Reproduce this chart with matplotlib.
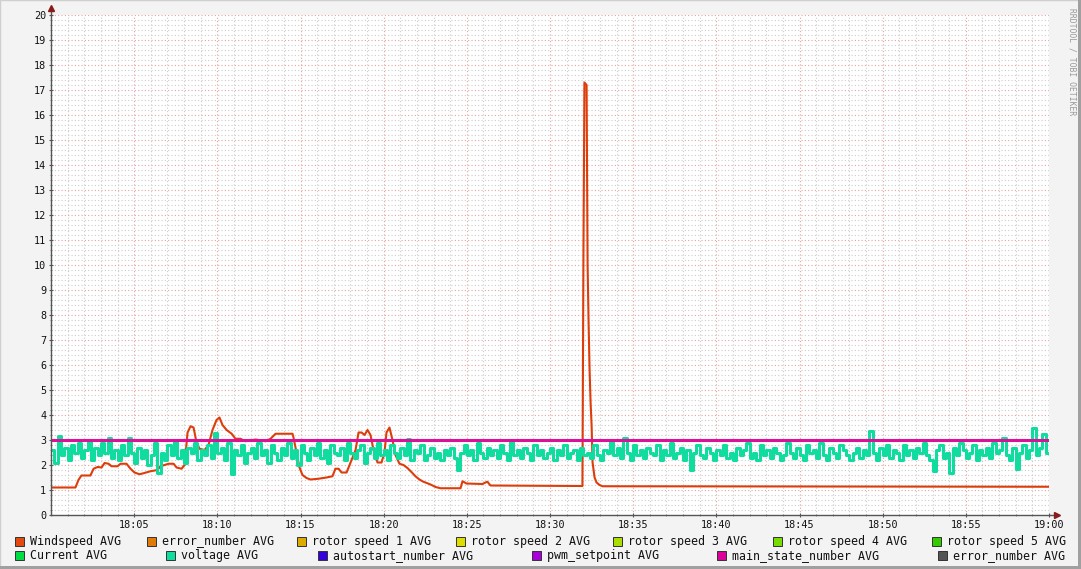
import numpy as np
import matplotlib
matplotlib.use("Agg")
import matplotlib.pyplot as plt
from matplotlib.patches import Rectangle
from matplotlib.lines import Line2D

# windspeed: minutes after 18:00 and value
wind_min = [0, 1.47, 1.65, 1.83, 2.37, 2.56, 2.80, 3.04, 3.22, 3.46, 3.64, 4.00, 4.18, 4.54,
            4.78, 5.02, 5.32, 5.56, 5.98, 6.40, 6.58, 7.07, 7.37, 7.55, 7.85, 8.03, 8.21, 8.39,
            8.57, 8.75, 8.93, 9.23, 9.47, 9.71, 9.95, 10.13, 10.31, 10.56, 10.86, 11.09, 11.39,
            11.69, 12.30, 12.90, 13.20, 13.50, 13.68, 14.52, 14.58, 14.76, 14.94, 15.12, 15.36,
            15.60, 16.08, 16.56, 16.92, 17.10, 17.29, 17.47, 17.77, 17.95, 18.13, 18.31, 18.49,
            18.67, 18.85, 19.03, 19.21, 19.39, 19.63, 19.87, 20.05, 20.17, 20.35, 20.53, 20.71,
            20.95, 21.19, 21.43, 21.67, 21.91, 22.15, 22.39, 22.63, 22.88, 23.12, 23.42, 24.62,
            24.74, 24.98, 25.94, 26.12, 26.24, 26.42, 31.95, 32.01, 32.07, 32.20, 32.26, 32.32,
            32.38, 32.44, 32.50, 32.56, 32.68, 32.80, 32.98, 33.16, 60]
wind_val = [1.1, 1.1, 1.4, 1.58, 1.58, 1.85, 1.92, 1.9, 2.08, 2.05, 1.95, 1.95, 2.05, 2.05,
            1.85, 1.7, 1.63, 1.67, 1.75, 1.8, 1.95, 2.05, 2.05, 1.9, 1.85, 2.0, 3.3, 3.55,
            3.5, 2.9, 2.65, 2.6, 2.8, 3.4, 3.8, 3.9, 3.6, 3.4, 3.25, 3.05, 3.05,
            2.95, 3.02, 2.95, 3.05, 3.25, 3.25, 3.25, 3.1, 2.5, 1.9, 1.6, 1.48,
            1.42, 1.45, 1.5, 1.55, 1.85, 1.85, 1.7, 1.7, 2.0, 2.3, 2.6, 3.3,
            3.3, 3.2, 3.4, 3.2, 2.6, 2.1, 2.1, 2.5, 3.3, 3.5, 3.0, 2.4,
            2.05, 2.0, 1.88, 1.72, 1.55, 1.42, 1.33, 1.27, 1.2, 1.12, 1.07, 1.07,
            1.35, 1.26, 1.24, 1.3, 1.33, 1.18, 1.16, 10.4, 17.3, 17.2, 10.0, 7.7,
            5.8, 4.5, 3.6, 2.1, 1.5, 1.3, 1.2, 1.15, 1.13]

# voltage, one sample every 12 s
voltage = [
    2.6, 2.1, 3.15, 2.4, 2.7, 2.2, 2.8, 2.5, 2.9, 2.3, 2.6, 3.0, 2.2, 2.7, 2.4, 2.9, 2.5, 3.1, 2.3, 2.6,
    2.2, 2.8, 2.4, 3.1, 2.5, 2.1, 2.7, 2.3, 2.6, 2.0, 2.4, 2.9, 1.7, 2.5, 2.2, 2.8, 2.4, 3.0, 2.3, 2.6,
    2.1, 2.7, 2.5, 2.9, 2.2, 2.6, 2.4, 2.8, 2.3, 3.3, 2.5, 2.7, 2.2, 2.9, 1.65, 2.6, 2.4, 2.8, 2.1, 2.5,
    2.7, 2.3, 2.9, 2.4, 2.6, 2.1, 2.8, 2.5, 2.2, 2.7, 2.4, 2.9, 2.3, 2.6, 2.0, 2.8, 2.5, 2.2, 2.7, 2.4,
    2.9, 2.3, 2.6, 2.1, 2.8, 2.5, 2.4, 2.7, 2.2, 2.9, 2.5, 2.3, 2.6, 2.8, 2.1, 2.5, 2.7, 2.3, 2.9, 2.4,
    2.6, 2.2, 2.8, 2.5, 2.3, 2.7, 2.4, 3.05, 2.2, 2.6, 2.5, 2.8, 2.2, 2.4, 2.7, 2.3, 2.5, 2.2, 2.6, 2.4,
    2.7, 2.3, 1.8, 2.5, 2.8, 2.4, 2.6, 2.2, 2.9, 2.5, 2.3, 2.7, 2.4, 2.6, 2.3, 2.8, 2.5, 2.2, 3.0, 2.4,
    2.6, 2.3, 2.7, 2.5, 2.2, 2.8, 2.4, 2.6, 2.3, 2.5, 2.7, 2.2, 2.6, 2.4, 2.8, 2.3, 2.5, 2.6, 2.2, 2.7,
    2.4, 2.5, 2.3, 2.8, 2.4, 2.2, 2.6, 2.5, 3.0, 2.4, 2.7, 2.3, 3.1, 2.5, 2.2, 2.8, 2.4, 2.6, 2.3, 2.7,
    2.5, 2.4, 2.8, 2.2, 2.6, 2.4, 2.9, 2.3, 2.5, 2.7, 2.2, 2.6, 1.8, 2.5, 2.8, 2.4, 2.3, 2.7, 2.5, 2.2,
    2.6, 2.4, 2.8, 2.3, 2.5, 2.2, 2.7, 2.4, 2.6, 2.9, 2.3, 2.5, 2.2, 2.8, 2.4, 2.6, 2.3, 2.7, 2.5, 2.2,
    2.4, 2.9, 2.5, 2.3, 2.7, 2.4, 2.2, 2.8, 2.5, 2.6, 2.3, 2.9, 2.4, 2.2, 2.7, 2.5, 2.3, 2.8, 2.6, 2.4,
    2.2, 2.5, 2.7, 2.3, 2.6, 2.4, 3.35, 2.5, 2.2, 2.7, 2.4, 2.8, 2.3, 2.6, 2.5, 2.2, 2.8, 2.4, 2.6, 2.3,
    2.7, 2.5, 2.9, 2.4, 2.2, 1.75, 2.6, 2.8, 2.3, 2.5, 1.7, 2.7, 2.4, 2.9, 2.6, 2.3, 2.5, 2.8, 2.2, 2.6,
    2.4, 2.7, 2.3, 2.9, 2.5, 2.6, 3.1, 2.4, 2.2, 2.7, 1.85, 2.5, 2.8, 2.3, 2.6, 3.5, 2.4, 2.7, 3.25, 2.5,
]
main_state = [3.0, 3.0]
main_state_min = [0, 60]

x_ticks = [5, 10, 15, 20, 25, 30, 35, 40, 45, 50, 55, 60]
x_labels = ["18:05", "18:10", "18:15", "18:20", "18:25", "18:30",
            "18:35", "18:40", "18:45", "18:50", "18:55", "19:00"]

legend_rows = [
    [("Windspeed AVG", "#e24a10"), ("error_number AVG", "#e07a0a"), ("rotor speed 1 AVG", "#ddaa00"),
     ("rotor speed 2 AVG", "#dddd00"), ("rotor speed 3 AVG", "#aadd00"),
     ("rotor speed 4 AVG", "#77dd00"), ("rotor speed 5 AVG", "#33cc00")],
    [("Current AVG", "#00dd44"), ("voltage AVG", "#10dca0"), ("autostart_number AVG", "#3300dd"),
     ("pwm_setpoint AVG", "#aa00dd"), ("main_state_number AVG", "#dd0099"),
     ("error_number AVG", "#555555")],
]
legend_x = [[15, 147, 297, 456, 613, 773, 932], [15, 166, 318, 532, 717, 938]]

MONO = "DejaVu Sans Mono"
W, H = 1081, 569


def main():
    fig = plt.figure(figsize=(W / 100, H / 100), dpi=100, facecolor="#f3f3f3")
    ax = fig.add_axes([51 / W, 1 - 515 / H, 998 / W, 500 / H])
    ax.set_facecolor("white")

    # grid
    minor_x = [m for m in range(0, 61) if m % 5]
    for m in minor_x:
        ax.axvline(m, color="#cccccc", lw=0.8, ls=(0, (1, 2)), zorder=0)
    for m in range(5, 61, 5):
        ax.axvline(m, color="#e8a0a0", lw=0.8, ls=(0, (1, 2)), zorder=0.5)
    for k in range(0, 100):
        if k % 5:
            ax.axhline(k * 0.2, color="#cccccc", lw=0.8, ls=(0, (1, 2)), zorder=0)
    for k in range(1, 21):
        ax.axhline(k, color="#e8a0a0", lw=0.8, ls=(0, (1, 2)), zorder=0.5)

    # data
    ax.plot(wind_min, wind_val, color="#dd3d0b", lw=1.5, zorder=3)
    v_min = np.arange(len(voltage) + 1) * 60.0 / len(voltage)
    ax.plot(v_min, voltage + [voltage[-1]], color="#10dca0", lw=2.2,
            drawstyle="steps-post", zorder=4)
    ax.plot(main_state_min, main_state, color="#dc1199", lw=2.2, zorder=5)

    ax.set_xlim(0, 60)
    ax.set_ylim(0, 20)
    for s in ax.spines.values():
        s.set_visible(False)

    ax.set_xticks(x_ticks)
    ax.set_xticklabels(x_labels)
    ax.set_yticks(range(0, 21))
    ax.set_xticks(minor_x, minor=True)
    ax.set_yticks([k * 0.2 for k in range(100) if k % 5], minor=True)
    ax.tick_params(axis="both", which="major", length=3, width=0.8, color="#555555",
                   direction="inout", labelsize=7.3, pad=2)
    ax.tick_params(axis="both", which="minor", length=2, width=0.6, color="#888888",
                   direction="inout")
    for lab in ax.get_xticklabels() + ax.get_yticklabels():
        lab.set_family(MONO)
        lab.set_color("#111111")

    # axis lines with arrows
    ax.add_line(Line2D([0, 0], [0, 1.015], transform=ax.transAxes, color="#555555",
                       lw=1, clip_on=False, zorder=6))
    ax.add_line(Line2D([0, 1.008], [0, 0], transform=ax.transAxes, color="#555555",
                       lw=1, clip_on=False, zorder=6))
    ax.plot([0], [1.015], marker="^", ms=4.5, color="#8b1a1a", transform=ax.transAxes,
            clip_on=False, zorder=7)
    ax.plot([1.008], [0], marker=">", ms=4.5, color="#8b1a1a", transform=ax.transAxes,
            clip_on=False, zorder=7)

    # legend
    for row, (items, xs) in enumerate(zip(legend_rows, legend_x)):
        yc = 541 if row == 0 else 555.5
        for (label, color), x0 in zip(items, xs):
            fig.patches.append(Rectangle((x0 / W, 1 - (yc + 4.5) / H), 9 / W, 9 / H,
                                         transform=fig.transFigure, facecolor=color,
                                         edgecolor="#333333", lw=0.7))
            fig.text((x0 + 15) / W, 1 - yc / H, label, family=MONO, fontsize=8.4,
                     va="center", ha="left", color="#111111")

    fig.text(1072 / W, 1 - 8 / H, "RRDTOOL / TOBI OETIKER", rotation=270, family=MONO,
             fontsize=5.8, color="#999999", ha="center", va="top")

    # frame
    fig.patches.append(Rectangle((0, 0), 1, 1, transform=fig.transFigure, fill=False,
                                 edgecolor="#cfcfcf", lw=1))
    fig.patches.append(Rectangle((1 - 3 / W, 0), 3 / W, 1, transform=fig.transFigure,
                                 facecolor="#a0a0a0", lw=0))
    fig.patches.append(Rectangle((0, 0), 1, 3 / H, transform=fig.transFigure,
                                 facecolor="#a0a0a0", lw=0))

    fig.savefig("out.png", dpi=100, facecolor=fig.get_facecolor())


if __name__ == "__main__":
    main()
